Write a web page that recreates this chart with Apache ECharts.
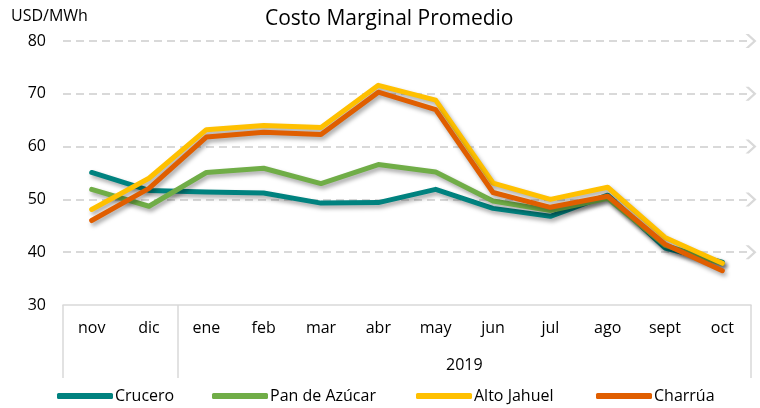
<!DOCTYPE html>
<html><head><meta charset="utf-8">
<script src="https://cdn.jsdelivr.net/npm/echarts@6/dist/echarts.min.js"></script>
<style>html,body{margin:0;padding:0;background:#fff}#c{width:760px;height:408px}</style>
</head><body><div id="c"></div>
<script>
var categories = ['nov','dic','ene','feb','mar','abr','may','jun','jul','ago','sept','oct'];
var yearLabel = '2019';
var crucero = [55.1, 51.7, 51.4, 51.2, 49.3, 49.4, 51.9, 48.3, 46.8, 50.8, 40.8, 38.1];
var panDeAzucar = [51.9, 48.7, 55.1, 55.9, 53.0, 56.6, 55.2, 49.7, 47.9, 50.2, 41.3, 37.9];
var altoJahuel = [48.1, 54.0, 63.2, 64.0, 63.6, 71.6, 68.8, 53.1, 50.0, 52.3, 42.8, 37.9];
var charrua = [46.0, 52.1, 61.8, 62.7, 62.3, 70.3, 67.0, 51.3, 48.5, 50.6, 41.5, 36.5];
var yTicks = [40, 50, 60, 70, 80];

var FONT = 'Open Sans';
var chart = echarts.init(document.getElementById('c'), null, {renderer: 'canvas'});
function mkSeries(name, data, color) {
  return {
    name: name, type: 'line', data: data, symbol: 'none', z: 10,
    lineStyle: {width: 5, color: color, shadowBlur: 4, shadowOffsetX: 2, shadowOffsetY: 3, shadowColor: 'rgba(0,0,0,0.35)', cap: 'round', join: 'round'},
    itemStyle: {color: color}
  };
}
var names = ['Crucero','Pan de Azúcar','Alto Jahuel','Charrúa'];
var colors = ['#00827F','#70AD47','#FFC000','#E05E00'];
var legendLefts = [57, 212, 416, 596];
var legendW = 56;
var option = {
  animation: false,
  textStyle: {fontFamily: FONT},
  title: [
    {text: 'Costo Marginal Promedio', left: 265, top: 9, padding: 0, textStyle: {fontFamily: FONT, fontSize: 21, fontWeight: 'normal', color: '#000'}},
    {text: 'USD/MWh', left: 11, top: 8, padding: 0, textStyle: {fontFamily: FONT, fontSize: 16, fontWeight: 'normal', color: '#000'}}
  ],
  legend: names.map(function (n, i) {
    return {data: [n], left: legendLefts[i], top: 388, padding: 0, itemWidth: legendW, itemHeight: 6, icon: 'roundRect', itemGap: 0,
      textStyle: {fontFamily: FONT, fontSize: 16, color: '#000', padding: [0,0,0,-3]}};
  }),
  grid: {left: 63, right: 9, top: 41, bottom: 103, containLabel: false},
  xAxis: [{
    type: 'category', data: categories, boundaryGap: true,
    axisLine: {lineStyle: {color: '#d9d9d9', width: 1.5}},
    axisTick: {show: true, length: 73, interval: function (idx) { return idx === 0 || idx === 2; }, lineStyle: {color: '#d9d9d9', width: 1.5}},
    axisLabel: {margin: 15, fontFamily: FONT, fontSize: 16, color: '#000', interval: 0}
  }, {
    type: 'value', min: 0, max: 12, interval: 1, position: 'bottom',
    axisLine: {show: false}, axisTick: {show: false}, splitLine: {show: false},
    axisLabel: {margin: 52, fontFamily: FONT, fontSize: 16, color: '#000', showMinLabel: true, showMaxLabel: true,
      formatter: function (v) { return v === 7 ? yearLabel : ''; }}
  }],
  yAxis: {
    type: 'value', min: 30, max: 80, interval: 10,
    axisLine: {show: false}, axisTick: {show: false}, splitLine: {show: false},
    axisLabel: {margin: 17, fontFamily: FONT, fontSize: 16, color: '#000'}
  },
  series: [{
    type: 'line', data: [], z: 1, silent: true,
    markLine: {
      silent: true, animation: false, z: 1,
      symbol: ['none', 'path://M0,7 L5,0 L10,7 L10,10 L5,3 L0,10 Z'],
      symbolSize: [14, 11],
      label: {show: false},
      lineStyle: {color: '#d9d9d9', width: 2, type: [8, 5]},
      data: yTicks.map(function (v) { return {yAxis: v}; })
    }
  }].concat(names.map(function (n, i) {
    return mkSeries(n, [crucero, panDeAzucar, altoJahuel, charrua][i], colors[i]);
  }))
};
chart.setOption(option);
</script></body></html>
